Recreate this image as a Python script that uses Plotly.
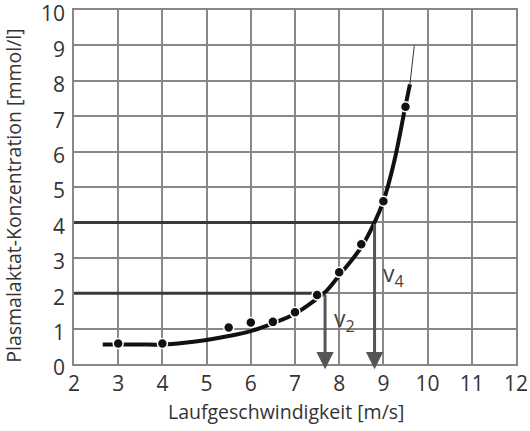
import plotly.graph_objects as go

# measured points
point_x = [3, 4, 5.5, 6, 6.5, 7, 7.5, 8, 8.5, 9.0, 9.5]
point_y = [0.58, 0.58, 1.03, 1.17, 1.19, 1.46, 1.95, 2.59, 3.38, 4.6, 7.27]

# fitted curve (thick part)
curve_x = [2.65, 3, 3.5, 4, 4.5, 5, 5.5, 6, 6.5, 7, 7.5, 7.7, 8, 8.5, 8.8, 9.0, 9.25, 9.5, 9.6]
curve_y = [0.55, 0.55, 0.55, 0.55, 0.6, 0.68, 0.79, 0.93, 1.15, 1.42, 1.85, 2.05, 2.5, 3.3, 4.0, 4.6, 5.75, 7.3, 7.9]
# thin extrapolation
ext_x = [9.6, 9.7]
ext_y = [7.9, 9.0]

# thresholds
thr_y = [2, 4]
thr_x = [7.68, 8.8]
thr_label = ["v<sub>2</sub>", "v<sub>4</sub>"]
label_pos_x = [8.12, 9.22]
label_pos_y = [1.25, 2.52]

x_ticks = list(range(2, 13))
y_ticks = list(range(0, 11))

fig = go.Figure()

# threshold horizontal lines
for yy, xx in zip(thr_y, thr_x):
    fig.add_trace(go.Scatter(x=[2, xx], y=[yy, yy], mode="lines",
                             line=dict(color="#3a3a3a", width=3), showlegend=False, hoverinfo="skip"))

fig.add_trace(go.Scatter(x=ext_x, y=ext_y, mode="lines",
                         line=dict(color="#333", width=1), showlegend=False))
fig.add_trace(go.Scatter(x=curve_x, y=curve_y, mode="lines", line_shape="spline",
                         line=dict(color="#111", width=4), showlegend=False))
fig.add_trace(go.Scatter(x=point_x, y=point_y, mode="markers",
                         marker=dict(color="#111", size=10, line=dict(color="white", width=1.5)),
                         showlegend=False))

for xx, yy in zip(thr_x, thr_y):
    fig.add_annotation(x=xx, y=-0.15, ax=xx, ay=yy, xref="x", yref="y", axref="x", ayref="y",
                       showarrow=True, arrowhead=2, arrowsize=1.15, arrowwidth=3, arrowcolor="#555", text="")

for t, xx, yy in zip(thr_label, label_pos_x, label_pos_y):
    fig.add_annotation(x=xx, y=yy, xref="x", yref="y", text=t, showarrow=False,
                       font=dict(size=23, color="#444", family="Open Sans"))

fig.add_annotation(x=0.48, y=-0.134, xref="paper", yref="paper", text="Laufgeschwindigkeit [m/s]",
                   showarrow=False, font=dict(size=19.5, color="#333", family="Open Sans"), yanchor="middle")
fig.add_annotation(x=-0.136, y=0.475, xref="paper", yref="paper", text="Plasmalaktat-Konzentration [mmol/l]",
                   showarrow=False, textangle=-90, xanchor="center", yanchor="middle",
                   font=dict(size=19.5, color="#333", family="Open Sans"))

fig.update_layout(
    width=530, height=431,
    margin=dict(l=74, r=14, t=10, b=67),
    paper_bgcolor="white", plot_bgcolor="white",
    font=dict(family="Open Sans", color="#333"),
)
fig.update_xaxes(range=[2, 12], tickvals=x_ticks, showgrid=True, gridcolor="#888", gridwidth=1.5,
                 zeroline=False, showline=True, linecolor="#888", linewidth=1.5, mirror=True,
                 tickfont=dict(size=21, color="#333"), ticks="", ticklabelstandoff=0,
                 ticklabeloverflow="allow", automargin=False)
fig.update_yaxes(range=[0, 10], tickvals=y_ticks, showgrid=True, gridcolor="#888", gridwidth=1.5,
                 zeroline=False, showline=True, linecolor="#888", linewidth=1.5, mirror=True,
                 tickfont=dict(size=21, color="#333"), ticks="", ticklabelstandoff=3,
                 ticklabelshift=4,
                 ticklabeloverflow="allow", automargin=False)

fig.write_html("out.html")
